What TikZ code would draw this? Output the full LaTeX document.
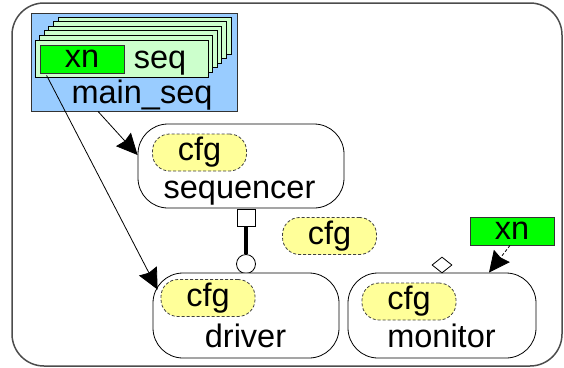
\documentclass[tikz,border=0pt]{standalone}
\usepackage{fontspec}
\setmainfont{Liberation Sans}
\usetikzlibrary{arrows.meta,shapes.geometric}
\definecolor{seqblue}{HTML}{99CCFF}
\definecolor{cardgreen}{HTML}{CCFFCC}
\definecolor{xngreen}{HTML}{00FF00}
\definecolor{cfgyellow}{HTML}{FFFF99}
\begin{document}
\begin{tikzpicture}[x=1pt,y=-1pt,line width=0.8pt,font=\fontsize{32.5}{36}\selectfont,>={Stealth[length=21pt,width=20pt,inset=2pt]}]
    \tikzstyle{comp}=[draw=black,fill=white,rounded corners=30pt,inner sep=0pt]
    \tikzstyle{cfgpill}=[draw=black!75,densely dashed,fill=cfgyellow,rounded corners=17pt,minimum width=94pt,minimum height=37pt,inner sep=0pt]
    \tikzstyle{card}=[draw=black,fill=cardgreen,minimum width=173pt,minimum height=37pt,inner sep=0pt]
    \tikzstyle{xnbox}=[draw=black!80,fill=xngreen,minimum width=84pt,minimum height=28pt,inner sep=0pt]
    \tikzstyle{lbl}=[anchor=base,inner sep=0pt]

\useasboundingbox (0,0) rectangle (564,367);
\draw[black!70,line width=1.5pt,rounded corners=32pt] (12,3) rectangle (562,366);

% main sequence with its stack of items
\node[draw=black!80,fill=seqblue,minimum width=206pt,minimum height=98pt,inner sep=0pt] (mainseq) at (134,62) {};
\foreach \i in {5,4,...,0}{
\node[card] (card\i) at (121.5+4.6*\i,58.5-4.6*\i) {};
};
\node[xnbox] (xn) at (82,59) {xn};
\node[lbl] (seqtxt) at (160,68) {seq};
\node[lbl] (mainseqtxt) at (142,103) {main\_seq};

% sequencer
\node[comp,minimum width=206pt,minimum height=84pt] (sequencer) at (241,166) {};
\node[cfgpill] (seqcfg) at (199.5,152.5) {cfg};
\node[lbl] (sequencertxt) at (239.5,198) {sequencer};
\node[draw,fill=white,minimum width=18pt,minimum height=17pt,inner sep=0pt] (port) at (246,217.5) {};
\node[draw,circle,fill=white,minimum size=19pt,inner sep=0pt] (export) at (246,264) {};
\draw[line width=4pt] (port.south) -- (export.north);

\node[cfgpill] (cfg) at (329.5,236) {cfg};

% driver
\node[comp,minimum width=186pt,minimum height=85pt] (driver) at (246,315.5) {};
\node[cfgpill] (drvcfg) at (208,298) {cfg};
\node[lbl] (drivertxt) at (245.5,347) {driver};

% monitor
\node[comp,minimum width=188pt,minimum height=85pt] (monitor) at (442,315.5) {};
\node[cfgpill] (moncfg) at (409,301.5) {cfg};
\node[lbl] (monitortxt) at (441.5,347) {monitor};
\node[draw,diamond,fill=white,minimum width=20pt,minimum height=16pt,inner sep=0pt] (analysis) at (442,265) {};
\node[xnbox] (monxn) at (512,231) {xn};

\draw[->] ([xshift=-36pt]mainseq.south) -- ([yshift=11pt]sequencer.west);
\draw[->] ([xshift=7pt,yshift=-2pt]xn.south west) -- ([xshift=5pt,yshift=-17pt]driver.north west);
\draw[->,densely dashed] ([xshift=-2pt]monxn.south) -- ([xshift=47pt]monitor.north);
\end{tikzpicture}
\end{document}
